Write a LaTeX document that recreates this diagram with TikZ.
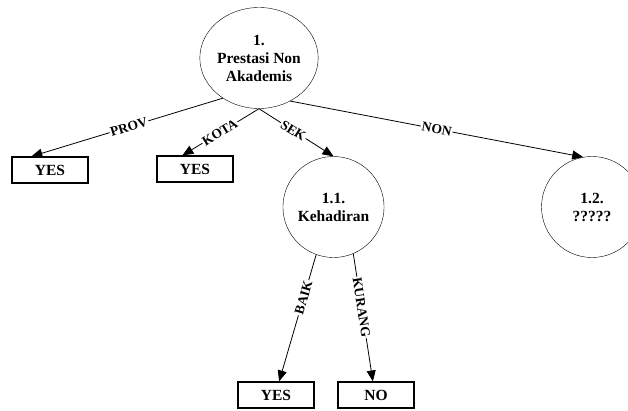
\documentclass[tikz,border=0pt]{standalone}
\usepackage{fontspec}
\setmainfont{Liberation Serif}
\usetikzlibrary{arrows.meta,shapes.geometric}

\begin{document}
\begin{tikzpicture}[x=1pt,y=-1pt,every node/.style={font=\bfseries\fontsize{15.5}{18}\selectfont},
    crit/.style={draw,ellipse,inner sep=0pt,minimum width=101pt,minimum height=101pt,align=center},
    leaf/.style={draw,line width=1.1pt,minimum width=76pt,minimum height=26pt,inner sep=0pt},
    branch/.style={fill=white,inner sep=1pt,sloped,font=\bfseries\fontsize{13.5}{15}\selectfont},
    link/.style={-{Triangle[length=11pt,width=9pt]},line width=0.8pt}]
    \useasboundingbox (0,0) rectangle (628,410);
    \node[crit,minimum width=104pt] (root) at (259,58) {1.\\ Prestasi Non\\ Akademis};
    \node[leaf] (yes1) at (50,170) {YES};
    \node[leaf] (yes2) at (195,169) {YES};
    \node[crit] (c11) at (333.5,207) {1.1.\\ Kehadiran};
    \node[crit] (c12) at (592,207) {1.2.\\ ?????};
    \node[leaf] (yes3) at (276,395) {YES};
    \node[leaf] (no) at (376,395) {NO};
    \draw[link] (root.228) -- node[branch,pos=0.49] {PROV} (yes1.144);
    \draw[link] (root.south) -- node[branch,pos=0.51] {KOTA} (yes2.133);
    \draw[link] (root.south) -- node[branch,pos=0.46] {SEK} (c11.north);
    \draw[link] (root.306) -- node[branch,pos=0.5] {NON} (c12.100);
    \draw[link] (c11.250) -- node[branch,pos=0.34] {BAIK} (yes3.77);
    \draw[link] (c11.293) -- node[branch,pos=0.42] {KURANG} (no.103);
  \end{tikzpicture}
\end{document}
